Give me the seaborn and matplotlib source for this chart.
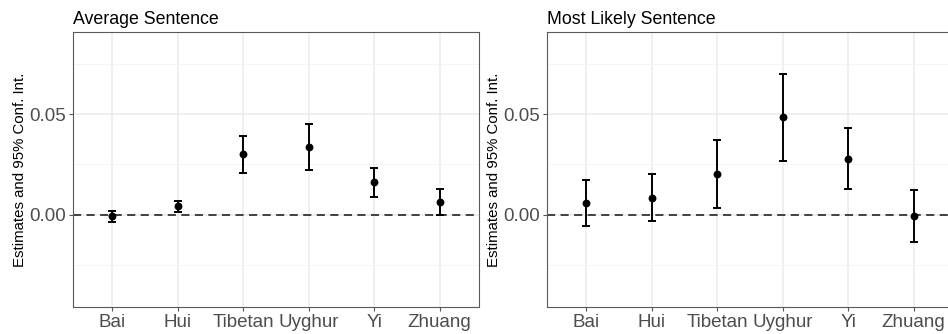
import matplotlib
matplotlib.use("Agg")
import matplotlib.pyplot as plt
import seaborn as sns
import pandas as pd
from matplotlib.ticker import MultipleLocator

# Данные: оценки и 95% доверительные интервалы
groups = ["Bai", "Hui", "Tibetan", "Uyghur", "Yi", "Zhuang"]

avg_est = [-0.0008, 0.0043, 0.0300, 0.0336, 0.0162, 0.0063]
avg_low = [-0.0035, 0.0015, 0.0210, 0.0222, 0.0091, 0.0000]
avg_high = [0.0021, 0.0071, 0.0391, 0.0452, 0.0233, 0.0126]

ml_est = [0.0060, 0.0086, 0.0202, 0.0483, 0.0276, -0.0007]
ml_low = [-0.0053, -0.0030, 0.0033, 0.0268, 0.0126, -0.0137]
ml_high = [0.0171, 0.0202, 0.0373, 0.0700, 0.0430, 0.0124]

titles = ["Average Sentence", "Most Likely Sentence"]

sns.set_theme(style="white")
plt.rcParams['font.family'] = ['Liberation Sans', 'DejaVu Sans']

fig = plt.figure(figsize=(9.48, 3.34), dpi=100)
W, H = 948, 334
positions = [73, 547]


def panel(ax, est, low, high, title):
    df = pd.DataFrame({"group": groups, "est": est, "low": low, "high": high})
    x = range(len(groups))
    # сетка в стиле theme_bw
    ax.yaxis.set_major_locator(MultipleLocator(0.05))
    ax.yaxis.set_minor_locator(MultipleLocator(0.025))
    ax.grid(True, which="major", color="#EBEBEB", lw=1.1, zorder=0)
    ax.grid(True, which="minor", axis="y", color="#F2F2F2", lw=0.6, zorder=0)
    ax.axhline(0, color="#333333", lw=1.3, ls=(0, (4.5, 3)), zorder=1)
    ax.errorbar(list(x), df["est"], yerr=[df["est"] - df["low"], df["high"] - df["est"]],
                fmt="none", ecolor="black", elinewidth=1.4, capsize=3.2, capthick=1.4, zorder=2)
    sns.scatterplot(data=df, x="group", y="est", ax=ax, color="black", s=32,
                    edgecolor="black", linewidth=0, zorder=3)
    ax.set_xlim(-0.6, 5.6)
    ax.set_ylim(-0.0457, 0.0907)
    ax.set_xticks(list(x))
    ax.set_xticklabels(groups)
    ax.yaxis.set_major_formatter(matplotlib.ticker.FuncFormatter(lambda v, p: f"{v:.2f}"))
    ax.tick_params(axis="both", which="major", labelsize=13.5, labelcolor="#4D4D4D",
                   color="#555555", length=3, width=0.8, pad=2, left=True, bottom=True)
    ax.tick_params(axis="y", which="minor", length=0)
    ax.set_xlabel("")
    ax.set_ylabel("Estimates and 95% Conf. Int.", fontsize=10.8, color="black", labelpad=1.5)
    ax.set_title(title, loc="left", fontsize=12.8, color="black", pad=6)
    for s in ax.spines.values():
        s.set_color("#5A5A5A")
        s.set_linewidth(0.8)


data = [(avg_est, avg_low, avg_high), (ml_est, ml_low, ml_high)]
for i, left in enumerate(positions):
    ax = fig.add_axes([left / W, (H - 307) / H, 406 / W, 275 / H])
    panel(ax, *data[i], titles[i])

fig.savefig("out.png", dpi=100)
